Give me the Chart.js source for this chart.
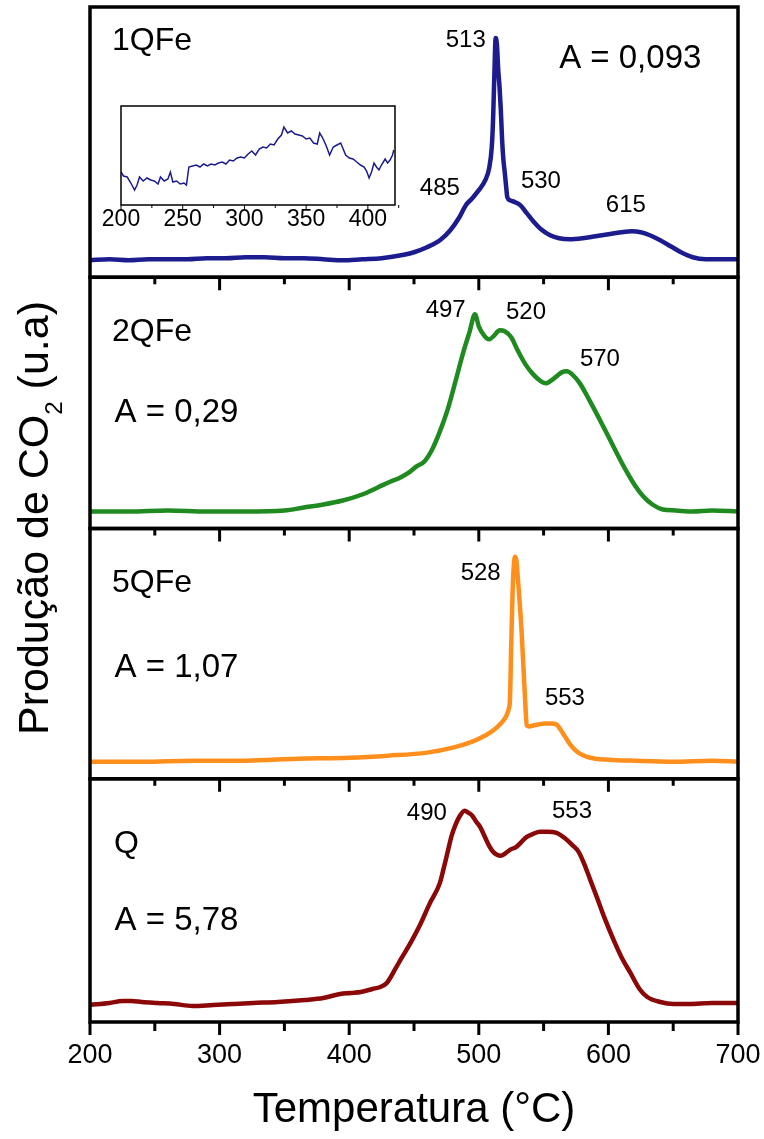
<!DOCTYPE html>
<html>
<head>
<meta charset="utf-8">
<script src="https://cdn.jsdelivr.net/npm/chart.js@4.4.0/dist/chart.umd.min.js"></script>
<style>
  html, body { margin: 0; padding: 0; background: #fff; }
  #wrap { position: relative; width: 764px; height: 1139px; }
  #main { position: absolute; left: 0; top: 0; }
  #inset { position: absolute; left: 100px; top: 95px; }
</style>
</head>
<body>
<div id="wrap">
  <canvas id="main" width="764" height="1139"></canvas>
  <canvas id="inset" width="320" height="139"></canvas>
</div>
<script>
// TPD curves: CO2 production (arbitrary units) vs temperature (°C)

const FONT = '"Liberation Sans", Arial, Helvetica, sans-serif';

// ── Data ───────────────────────────────────────────────────────────────────────
const temp1QFe = [200,215,230,245,260,275,290,305,320,335,350,365,380,395,410,425,440,450,460,470,478,485,490,495,500,505,508,510,511,512,513,514,515,516,517,518,519,520,521,522,524,528,532,537,542,548,555,562,570,580,590,600,610,618,625,632,640,648,656,665,675,690,700];
const co2_1QFe = [0,1,0,1,1,1,2,2,3,3,2,2,1,0,1,2,5,8,13,20,30,43,55,62,70,80,92,113,140,185,222,215,190,173,150,120,100,88,75,63,60,58,55,47,39,31,25,22,21,22,24,26,28,29,28,25,20,14,8,3,1,1,1];

const temp2QFe = [200,230,260,290,320,350,365,380,395,410,422,432,438,445,452,458,464,470,476,482,488,493,497,500,504,508,512,516,520,525,530,536,542,548,552,556,560,564,568,572,578,585,592,600,607,614,620,627,634,642,652,665,680,700];
const co2_2QFe = [0,0,1,0,0,1,4,7,11,17,24,30,33,38,45,50,62,80,102,130,159,180,197,185,176,172,176,181,180,174,161,147,137,130,128,131,135,139,140,137,128,112,95,75,57,40,27,15,7,2,1,0,1,0];

const temp5QFe = [200,240,280,320,360,400,430,460,480,495,505,512,517,521,523,524,525,526,527,528,529,530,531,532,533,534,535,536,537,539,542,546,551,556,560,563,566,570,574,578,583,590,600,620,650,680,700];
const co2_5QFe = [0,0,1,1,3,4,6,9,14,20,26,32,38,45,52,61,115,165,195,204,200,185,168,150,130,105,80,55,36,35,36,37,38,38,37,32,26,18,12,8,5,3,2,1,0,1,0];

const tempQ = [200,215,225,232,240,252,265,279,295,310,326,345,366,380,393,401,409,418,424,429,436,440,446,455,462,470,473,476,479,482,485,489,492,495,498,501,505,508,511,514,517,520,524,529,533,537,542,547,553,560,566,572,577,581,586,591,597,604,610,617,624,630,640,650,662,680,700];
const co2_Q = [-1,1,3,3,2,1,0,-2,-1,0,1,2,4,6,10,11,12,15,17,21,36,45,58,80,100,121,136,152,168,179,187,193,191,188,182,177,166,158,152,149,148,150,154,157,162,167,170,172,172,171,166,159,152,141,124,107,86,64,47,31,15,7,2,0,0,1,1];

// inset: 1QFe low-temperature region, magnified
const insetTemp = [200,202,205,208,211,213,215,218,221,224,227,230,232,235,238,240,242,245,248,251,253,255,258,261,264,267,270,273,276,279,282,285,288,291,294,297,300,303,306,309,312,315,318,321,324,327,330,332,335,338,341,344,347,350,353,356,359,361,363,366,369,372,375,378,380,382,385,388,391,394,397,399,401,403,405,407,409,411,414,416,418,420,421];
const insetCo2 = [33,29,28,22,15,20,28,24,27,25,24,21,28,24,26,33,23,24,21,22,20,38,39,40,38,41,39,41,40,42,43,41,45,44,47,48,47,51,54,50,56,58,57,61,60,66,70,78,72,74,71,70,69,66,67,62,61,72,68,60,50,58,60,62,56,50,47,46,43,40,38,34,27,33,42,38,35,40,46,42,45,50,55];

const xTicks = [200, 300, 400, 500, 600, 700];
const insetTicks = [200, 250, 300, 350, 400];

// ── Panels (top to bottom) ─────────────────────────────────────────────────────
const panels = [
  { id: 'y1', name: '1QFe', color: '#1c1c8e', temp: temp1QFe, co2: co2_1QFe, min: -17, max: 253, weight: 270 },
  { id: 'y2', name: '2QFe', color: '#1f8a1f', temp: temp2QFe, co2: co2_2QFe, min: -17, max: 234, weight: 251 },
  { id: 'y3', name: '5QFe', color: '#ff8f1c', temp: temp5QFe, co2: co2_5QFe, min: -17, max: 232, weight: 250 },
  { id: 'y4', name: 'Q',    color: '#8b0808', temp: tempQ,    co2: co2_Q,    min: -18, max: 225, weight: 243 }
];

// text placement in data coordinates (x in °C, y in panel units)
const notes = [
  { axis: 'y1', text: '1QFe', x: 217, y: 210, size: 32 },
  { axis: 'y1', text: 'A = 0,093', x: 562, y: 192, size: 33 },
  { axis: 'y1', text: '513', x: 474.5, y: 213, size: 24 },
  { axis: 'y1', text: '485', x: 454.5, y: 65, size: 24 },
  { axis: 'y1', text: '530', x: 532.5, y: 72, size: 24 },
  { axis: 'y1', text: '615', x: 598, y: 48, size: 24 },
  { axis: 'y2', text: '2QFe', x: 217, y: 170, size: 32 },
  { axis: 'y2', text: 'A = 0,29', x: 219, y: 89, size: 33 },
  { axis: 'y2', text: '497', x: 459, y: 194, size: 24 },
  { axis: 'y2', text: '520', x: 521, y: 192, size: 24 },
  { axis: 'y2', text: '570', x: 578, y: 145, size: 24 },
  { axis: 'y3', text: '5QFe', x: 217, y: 169, size: 32 },
  { axis: 'y3', text: 'A = 1,07', x: 219, y: 84, size: 33 },
  { axis: 'y3', text: '528', x: 486, y: 181, size: 24 },
  { axis: 'y3', text: '553', x: 551, y: 56, size: 24 },
  { axis: 'y4', text: 'Q', x: 218.5, y: 151, size: 32 },
  { axis: 'y4', text: 'A = 5,78', x: 219, y: 74, size: 33 },
  { axis: 'y4', text: '490', x: 444.5, y: 184, size: 24 },
  { axis: 'y4', text: '553', x: 556.5, y: 186, size: 24 }
];

function line(ctx, x1, y1, x2, y2) {
  ctx.beginPath(); ctx.moveTo(x1, y1); ctx.lineTo(x2, y2); ctx.stroke();
}

// keep tick-label overflow from eating into the plot width
function noLabelPadding(scale) {
  scale.paddingLeft = 0;
  scale.paddingRight = 0;
}

// ── Frames, inner ticks, labels and y title ───────────────────────────────────
const panelDecor = {
  id: 'panelDecor',
  afterDraw(chart) {
    const ctx = chart.ctx;
    const xs = chart.scales.x;
    const { left, right } = chart.chartArea;
    ctx.save();

    ctx.fillStyle = '#000';
    ctx.textAlign = 'left';
    ctx.textBaseline = 'alphabetic';
    notes.forEach(n => {
      ctx.font = `${n.size}px ${FONT}`;
      ctx.fillText(n.text, xs.getPixelForValue(n.x), chart.scales[n.axis].getPixelForValue(n.y));
    });

    ctx.strokeStyle = '#000';
    ctx.lineWidth = 3.5;
    panels.forEach(p => {
      const ys = chart.scales[p.id];
      ctx.strokeRect(left, ys.top, right - left, ys.bottom - ys.top);
    });

    // ticks: major every 100, minor halfway
    ctx.lineWidth = 3;
    const minor = xTicks.slice(1).map((t, i) => (t + xTicks[i]) / 2);
    panels.slice(1).forEach(p => {
      const top = chart.scales[p.id].top;
      xTicks.slice(1, -1).forEach(t => { const px = xs.getPixelForValue(t); line(ctx, px, top, px, top + 13); });
      minor.forEach(t => { const px = xs.getPixelForValue(t); line(ctx, px, top, px, top + 7); });
    });
    const bottom = chart.scales[panels[panels.length - 1].id].bottom;
    xTicks.forEach(t => { const px = xs.getPixelForValue(t); line(ctx, px, bottom, px, bottom + 13); });
    minor.forEach(t => { const px = xs.getPixelForValue(t); line(ctx, px, bottom, px, bottom + 9); });

    // y title with subscript
    ctx.translate(48, 518);
    ctx.rotate(-Math.PI / 2);
    const parts = [['Produção de CO', 43, 0], ['2', 24, 14], [' (u.a)', 43, 0]];
    let w = 0;
    parts.forEach(p => { ctx.font = `${p[1]}px ${FONT}`; w += ctx.measureText(p[0]).width; });
    let x = -w / 2;
    parts.forEach(p => {
      ctx.font = `${p[1]}px ${FONT}`;
      ctx.fillText(p[0], x, p[2]);
      x += ctx.measureText(p[0]).width;
    });
    ctx.restore();
  }
};

const scales = {
  x: {
    type: 'linear', position: 'bottom', min: 200, max: 700,
    afterFit: noLabelPadding,
    ticks: { stepSize: 100, includeBounds: false, color: '#000', padding: 20, font: { family: FONT, size: 27, lineHeight: 1 } },
    grid: { display: false, drawTicks: false },
    border: { display: false },
    title: { display: true, text: 'Temperatura (°C)', color: '#000', font: { family: FONT, size: 42, lineHeight: 1 }, padding: { top: 0, bottom: 8 } }
  }
};
panels.forEach((p, i) => {
  scales[p.id] = {
    type: 'linear', position: 'left', display: false,
    stack: 'tpd', stackWeight: p.weight, weight: panels.length - i,
    min: p.min, max: p.max
  };
});

new Chart(document.getElementById('main'), {
  type: 'line',
  data: {
    datasets: panels.map(p => ({
      label: p.name,
      data: p.temp.map((t, i) => ({ x: t, y: p.co2[i] })),
      yAxisID: p.id,
      borderColor: p.color,
      borderWidth: 4.5,
      pointRadius: 0,
      cubicInterpolationMode: 'monotone',
      fill: false
    }))
  },
  options: {
    responsive: false,
    animation: false,
    layout: { padding: { left: 90, right: 26, top: 7, bottom: 0 } },
    plugins: { legend: { display: false }, tooltip: { enabled: false } },
    scales
  },
  plugins: [panelDecor]
});

// ── Inset chart ────────────────────────────────────────────────────────────────
const insetDecor = {
  id: 'insetDecor',
  afterDraw(chart) {
    const ctx = chart.ctx;
    const xs = chart.scales.x;
    const { left, right, top, bottom } = chart.chartArea;
    ctx.save();
    ctx.strokeStyle = '#000';
    ctx.lineWidth = 1.5;
    ctx.strokeRect(left, top, right - left, bottom - top);
    ctx.lineWidth = 1;
    insetTicks.forEach(t => { const px = xs.getPixelForValue(t); line(ctx, px, bottom, px, bottom + 5); });
    insetTicks.forEach(t => { const px = xs.getPixelForValue(t + 25); line(ctx, px, bottom, px, bottom + 3); });
    ctx.restore();
  }
};

new Chart(document.getElementById('inset'), {
  type: 'line',
  data: {
    datasets: [{
      data: insetTemp.map((t, i) => ({ x: t, y: insetCo2[i] })),
      borderColor: '#1c1c8e',
      borderWidth: 1.5,
      pointRadius: 0,
      tension: 0
    }]
  },
  options: {
    responsive: false,
    animation: false,
    layout: { padding: { left: 21, right: 25, top: 11, bottom: 0 } },
    plugins: { legend: { display: false }, tooltip: { enabled: false } },
    scales: {
      x: {
        type: 'linear', min: 200, max: 422,
        afterFit: noLabelPadding,
        ticks: { stepSize: 50, includeBounds: false, color: '#000', padding: 3, font: { family: FONT, size: 23, lineHeight: 1 } },
        grid: { display: false, drawTicks: false },
        border: { display: false }
      },
      y: { display: false, min: 0, max: 99 }
    }
  },
  plugins: [insetDecor]
});
</script>
</body>
</html>
